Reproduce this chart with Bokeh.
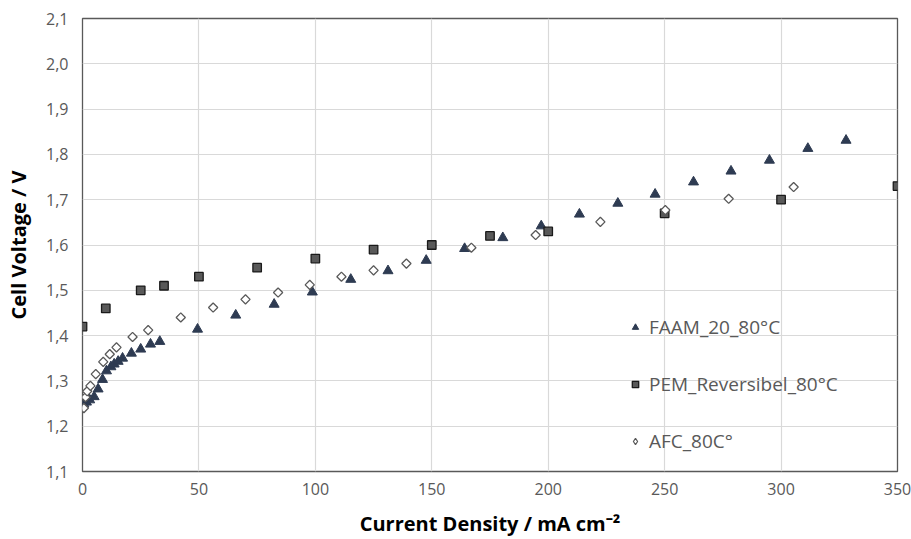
import numpy as np
from bokeh.plotting import figure
from bokeh.models import Legend, LegendItem, FixedTicker, Range1d
from bokeh.embed import file_html
from bokeh.resources import INLINE

# ---- data ----
faam_x = [0.6, 1.7, 3.1, 5.0, 6.7, 8.6, 10.3, 12.2, 13.6, 15.3, 17.2, 21, 25, 29.2, 33.2,
          49.4, 65.8, 82.3, 98.7, 115.2, 131.2, 147.6, 164.1, 180.5, 197, 213.4, 229.9,
          245.9, 262.4, 278.5, 295, 311.5, 327.9]
faam_y = [1.249, 1.253, 1.258, 1.265, 1.282, 1.303, 1.322, 1.331, 1.337, 1.343, 1.350, 1.361,
          1.370, 1.381, 1.387, 1.414, 1.445, 1.469, 1.496, 1.524, 1.543, 1.566, 1.592, 1.616,
          1.642, 1.668, 1.692, 1.712, 1.739, 1.763, 1.787, 1.813, 1.831]

pem_x = [0, 10, 25, 35, 50, 75, 100, 125, 150, 175, 200, 250, 300, 350]
pem_y = [1.42, 1.46, 1.50, 1.51, 1.53, 1.55, 1.57, 1.59, 1.60, 1.62, 1.63, 1.67, 1.70, 1.73]

afc_x = [0.6, 1.3, 2.0, 3.4, 5.7, 8.9, 11.7, 14.6, 21.5, 28.2, 42.2, 56.1, 70, 84, 97.6,
         111.2, 125, 139.1, 167, 194.6, 222.4, 250.3, 277.5, 305.4]
afc_y = [1.240, 1.264, 1.277, 1.289, 1.315, 1.342, 1.359, 1.374, 1.397, 1.412, 1.440, 1.462,
         1.480, 1.495, 1.512, 1.530, 1.544, 1.559, 1.594, 1.622, 1.651, 1.677, 1.702, 1.728]

series_names = ["FAAM_20_80°C", "PEM_Reversibel_80°C", "AFC_80C°"]
x_ticks = [0, 50, 100, 150, 200, 250, 300, 350]
y_ticks = [1.1, 1.2, 1.3, 1.4, 1.5, 1.6, 1.7, 1.8, 1.9, 2.0, 2.1]
y_tick_labels = ["1,1", "1,2", "1,3", "1,4", "1,5", "1,6", "1,7", "1,8", "1,9", "2,0", "2,1"]

FONT = "Open Sans"
TXT = "#595959"

p = figure(width=911, height=539, output_backend="svg", toolbar_location=None,
           x_range=Range1d(0, 350), y_range=Range1d(1.1, 2.1),
           min_border_left=82, min_border_right=14, min_border_top=18, min_border_bottom=68)
p.background_fill_color = "white"
p.border_fill_color = "white"
p.outline_line_color = "#595959"
p.outline_line_width = 1.3

p.xaxis.ticker = FixedTicker(ticks=x_ticks)
p.yaxis.ticker = FixedTicker(ticks=y_ticks)
p.yaxis.major_label_overrides = {t: l for t, l in zip(y_ticks, y_tick_labels)}
for ax in (p.xaxis, p.yaxis):
    ax.axis_line_color = None
    ax.major_tick_line_color = None
    ax.minor_tick_line_color = None
    ax.major_tick_in = 0
    ax.major_tick_out = 0
    ax.major_label_text_font = FONT
    ax.major_label_text_font_size = "16px"
    ax.major_label_text_color = TXT
    ax.axis_label_text_font = FONT
    ax.axis_label_text_font_style = "bold"
    ax.axis_label_text_font_size = "20px"
    ax.axis_label_text_color = "#000000"
p.xaxis.major_label_standoff = 11
p.yaxis.major_label_standoff = 14
p.xaxis.axis_label = "Current Density / mA cm⁻²"
p.yaxis.axis_label = "Cell Voltage / V"
p.xaxis.axis_label_standoff = 12
p.yaxis.axis_label_standoff = 11

p.xgrid.grid_line_color = "#d9d9d9"
p.ygrid.grid_line_color = "#d9d9d9"
p.xgrid.grid_line_width = 1.2
p.ygrid.grid_line_width = 1.2

r1 = p.scatter(faam_x, faam_y, marker="triangle", size=10, fill_color="#2e3b52",
               line_color="#2e3b52", line_width=1)
r2 = p.scatter(pem_x, pem_y, marker="square", size=8.5, fill_color="#595959",
               line_color="#1a1a1a", line_width=1.3)
# diamond glyph used for the legend entry (hidden beneath the rotated squares)
r3_leg = p.scatter(afc_x, afc_y, marker="diamond", size=7, fill_color="white",
                   line_color="#595959", line_width=1.2)
r3 = p.scatter(afc_x, afc_y, marker="square", angle=np.pi / 4, size=6.5, fill_color="white",
               line_color="#595959", line_width=1.3)

legend = Legend(items=[LegendItem(label=series_names[0], renderers=[r1]),
                       LegendItem(label=series_names[1], renderers=[r2]),
                       LegendItem(label=series_names[2], renderers=[r3_leg])],
                location=(545, 17), orientation="vertical",
                border_line_color=None, background_fill_alpha=0,
                label_text_font=FONT, label_text_font_size="19px", label_text_color=TXT,
                glyph_width=16, glyph_height=16, label_standoff=6, spacing=31,
                padding=0, margin=0)
p.add_layout(legend, "center")

open("out.html", "w").write(file_html(p, INLINE))
